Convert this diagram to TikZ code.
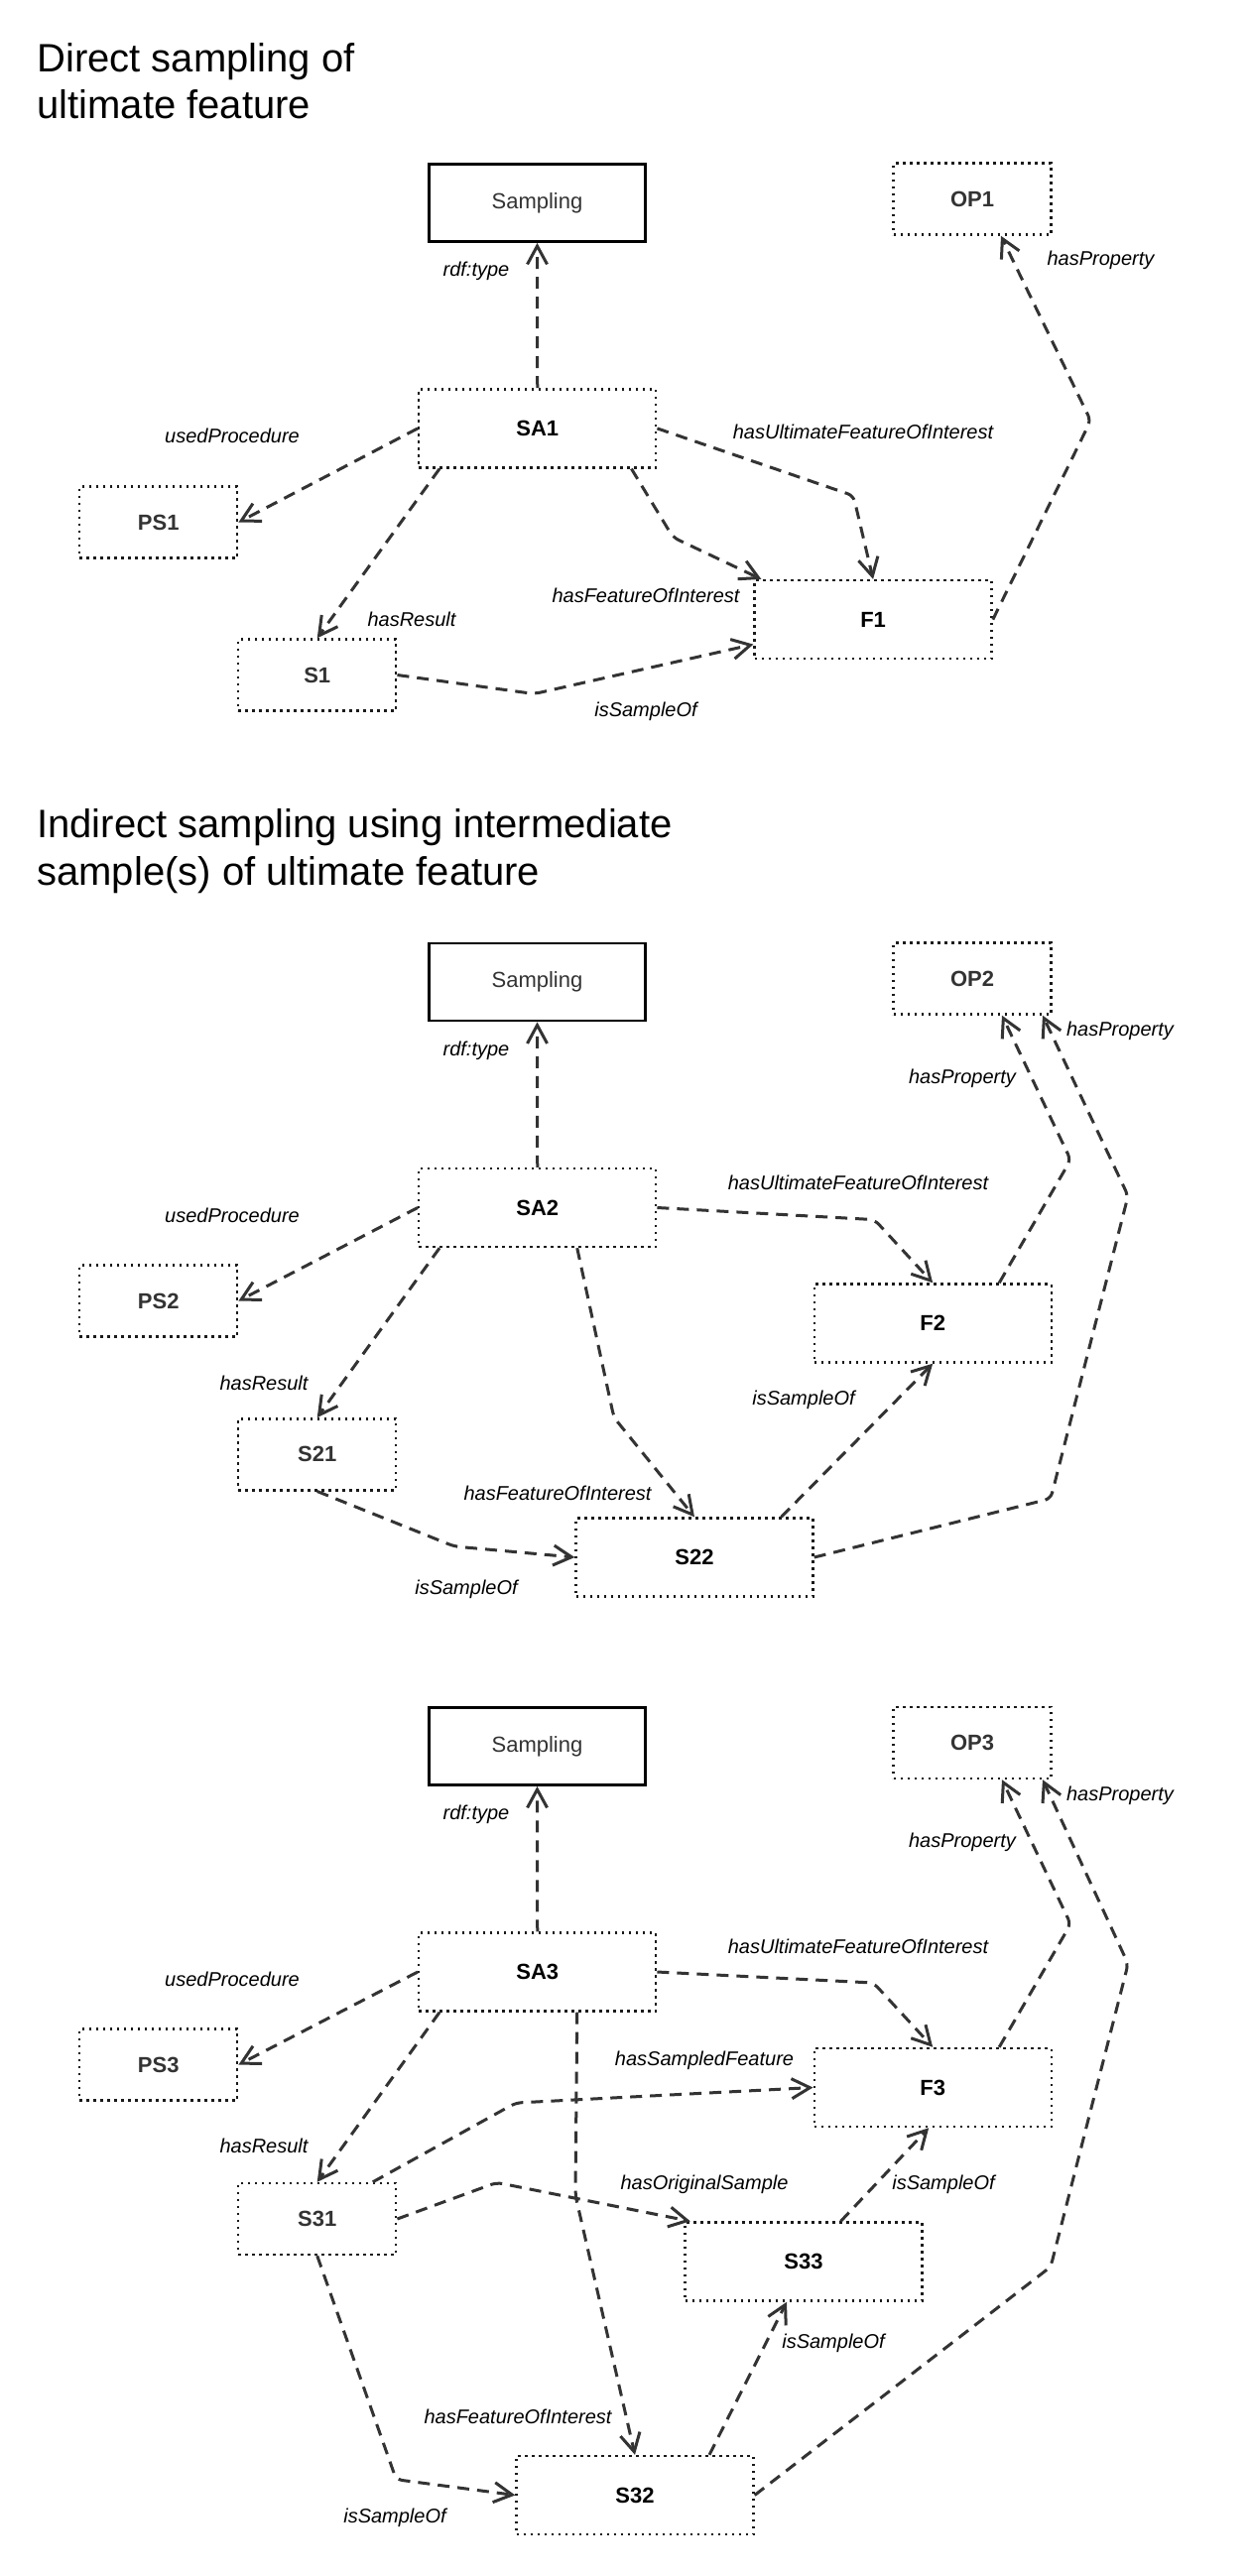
\documentclass[tikz,border=0pt]{standalone}
\usepackage{fontspec}
\setmainfont{Liberation Sans}
\usetikzlibrary{arrows.meta,calc}
\definecolor{cdark}{HTML}{333333}
\definecolor{cdot}{HTML}{1a1a1a}
\begin{document}
\begin{tikzpicture}[x=0.5pt,y=-0.5pt,
  boxbase/.style={rectangle, inner sep=0pt, draw=cdot, line width=1.2pt, dash pattern=on 1.2pt off 2.3pt, font=\fontsize{11}{13}\selectfont\bfseries},
  bigbox/.style={boxbase, minimum width=119.5pt, minimum height=39.5pt, text=black},
  smallbox/.style={boxbase, minimum width=79.5pt, minimum height=36pt, text=cdark},
  classbox/.style={rectangle, inner sep=0pt, draw=black, line width=1.4pt, minimum width=109pt, minimum height=39pt, font=\fontsize{11}{13}\selectfont, text=cdark},
  conn/.style={draw=cdark, line width=1.5pt, dash pattern=on 6pt off 4pt, rounded corners=3pt, -{Straight Barb[length=9.2pt,width=10pt]}},
  lbl/.style={anchor=base, inner sep=0pt, font=\fontsize{10}{12}\selectfont\itshape, text=black},
  ttl/.style={anchor=base west, inner sep=0pt, font=\fontsize{20}{24}\selectfont, text=black}
]
\path[use as bounding box, fill=white] (0,0) rectangle (1260,2597);

% ---------------- Section 1 ----------------
\node[ttl] (t1a) at (37,72.3) {Direct sampling of};
\node[ttl] (t1b) at (37,119.6) {ultimate feature};

\node[classbox] (samp1) at (541.5,204.5) {Sampling};
\node[smallbox] (OP1) at (980,200.6) {OP1};
\node[bigbox] (SA1) at (541.75,431.9) {SA1};
\node[smallbox] (PS1) at (159.75,526.5) {PS1};
\node[smallbox] (S1) at (319.75,680.5) {S1};
\node[bigbox] (F1) at (880.1,624.6) {F1};

\draw[conn] (SA1.north) -- (samp1.south);
\draw[conn] (SA1.west) -- (PS1.east);
\draw[conn] ($(SA1.south west)+(22,0)$) -- (S1.north);
\draw[conn] ($(SA1.south east)+(-26,0)$) -- (678.5,541.8) -- ($(F1.north west)+(8,0)$);
\draw[conn] (SA1.east) -- (860.2,499.7) -- (F1.north);
\draw[conn] (S1.east) -- (538.4,699.5) -- ($(F1.west)+(0,25)$);
\draw[conn] (F1.east) -- (1099.4,424) -- ($(OP1.south)+(29,0)$);

\node[lbl] (l1a) at (480,278) {rdf:type};
\node[lbl] (l1b) at (234,446) {usedProcedure};
\node[lbl] (l1c) at (415,631) {hasResult};
\node[lbl] (l1d) at (651,607) {hasFeatureOfInterest};
\node[lbl] (l1e) at (870,442) {hasUltimateFeatureOfInterest};
\node[lbl] (l1f) at (651,722) {isSampleOf};
\node[lbl] (l1g) at (1109.5,267.5) {hasProperty};

% ---------------- Section 2 ----------------
\node[ttl] (t2a) at (37,844.8) {Indirect sampling using intermediate};
\node[ttl] (t2b) at (37,892.6) {sample(s) of ultimate feature};

\node[classbox] (samp2) at (541.5,990) {Sampling};
\node[smallbox] (OP2) at (980,986.5) {OP2};
\node[bigbox] (SA2) at (541.75,1217.5) {SA2};
\node[smallbox] (PS2) at (159.75,1311.5) {PS2};
\node[smallbox] (S21) at (319.75,1466.3) {S21};
\node[bigbox] (F2) at (940.2,1334) {F2};
\node[bigbox] (S22) at (700,1570) {S22};

\draw[conn] (SA2.north) -- (samp2.south);
\draw[conn] (SA2.west) -- (PS2.east);
\draw[conn] ($(SA2.south west)+(22,0)$) -- (S21.north);
\draw[conn] ($(SA2.south)+(40,0)$) -- (618.8,1428.9) -- (S22.north);
\draw[conn] (SA2.east) -- (881.5,1229.6) -- (F2.north);
\draw[conn] (S21.south) -- (458,1559) -- (S22.west);
\draw[conn] ($(S22.north)+(87.5,0)$) -- (F2.south);
\draw[conn] ($(F2.north)+(67,0)$) -- (1079.2,1169.3) -- ($(OP2.south)+(30,0)$);
\draw[conn] (S22.east) -- (1059.1,1510.8) -- (1137.1,1205.5) -- ($(OP2.south)+(71,0)$);

\node[lbl] (l2a) at (480,1064) {rdf:type};
\node[lbl] (l2b) at (234,1232) {usedProcedure};
\node[lbl] (l2c) at (266,1401) {hasResult};
\node[lbl] (l2d) at (562,1512) {hasFeatureOfInterest};
\node[lbl] (l2e) at (865,1199) {hasUltimateFeatureOfInterest};
\node[lbl] (l2f) at (470,1607) {isSampleOf};
\node[lbl] (l2g) at (810,1416) {isSampleOf};
\node[lbl] (l2h) at (970,1092) {hasProperty};
\node[lbl] (l2i) at (1129,1044.5) {hasProperty};

% ---------------- Section 3 ----------------
\node[classbox] (samp3) at (541.5,1760.5) {Sampling};
\node[smallbox] (OP3) at (980,1757) {OP3};
\node[bigbox] (SA3) at (541.75,1988) {SA3};
\node[smallbox] (PS3) at (159.75,2081.5) {PS3};
\node[bigbox] (F3) at (940.2,2104.5) {F3};
\node[smallbox] (S31) at (319.75,2237) {S31};
\node[bigbox] (S33) at (810,2280) {S33};
\node[bigbox] (S32) at (640,2515.5) {S32};

\draw[conn] (SA3.north) -- (samp3.south);
\draw[conn] (SA3.west) -- (PS3.east);
\draw[conn] ($(SA3.south west)+(22,0)$) -- (S31.north);
\draw[conn] (SA3.east) -- (880.5,1999) -- (F3.north);
\draw[conn] ($(SA3.south)+(40,0)$) -- (580,2213) -- (S32.north);
\draw[conn] ($(S31.north)+(56,0)$) -- (519.9,2120) -- (F3.west);
\draw[conn] (S31.east) -- (500.7,2200.3) -- ($(S33.north west)+(6.5,0)$);
\draw[conn] (S31.south) -- (399.4,2499.7) -- (S32.west);
\draw[conn] ($(S33.north)+(37.5,0)$) -- ($(F3.south)+(-4,0)$);
\draw[conn] ($(S32.north)+(75,0)$) -- ($(S33.south)+(-17,0)$);
\draw[conn] ($(F3.north)+(67,0)$) -- (1079.2,1939.7) -- ($(OP3.south)+(30,0)$);
\draw[conn] (S32.east) -- (1059.1,2285.2) -- (1137.1,1979.9) -- ($(OP3.south)+(71,0)$);

\node[lbl] (l3a) at (480,1834) {rdf:type};
\node[lbl] (l3b) at (234,2002) {usedProcedure};
\node[lbl] (l3c) at (266,2170) {hasResult};
\node[lbl] (l3d) at (865,1969) {hasUltimateFeatureOfInterest};
\node[lbl] (l3e) at (710,2082) {hasSampledFeature};
\node[lbl] (l3f) at (710,2207) {hasOriginalSample};
\node[lbl] (l3g) at (522,2443) {hasFeatureOfInterest};
\node[lbl] (l3h) at (398,2543) {isSampleOf};
\node[lbl] (l3i) at (951,2207) {isSampleOf};
\node[lbl] (l3j) at (840,2367) {isSampleOf};
\node[lbl] (l3k) at (970,1862) {hasProperty};
\node[lbl] (l3l) at (1129,1815) {hasProperty};
\end{tikzpicture}
\end{document}
